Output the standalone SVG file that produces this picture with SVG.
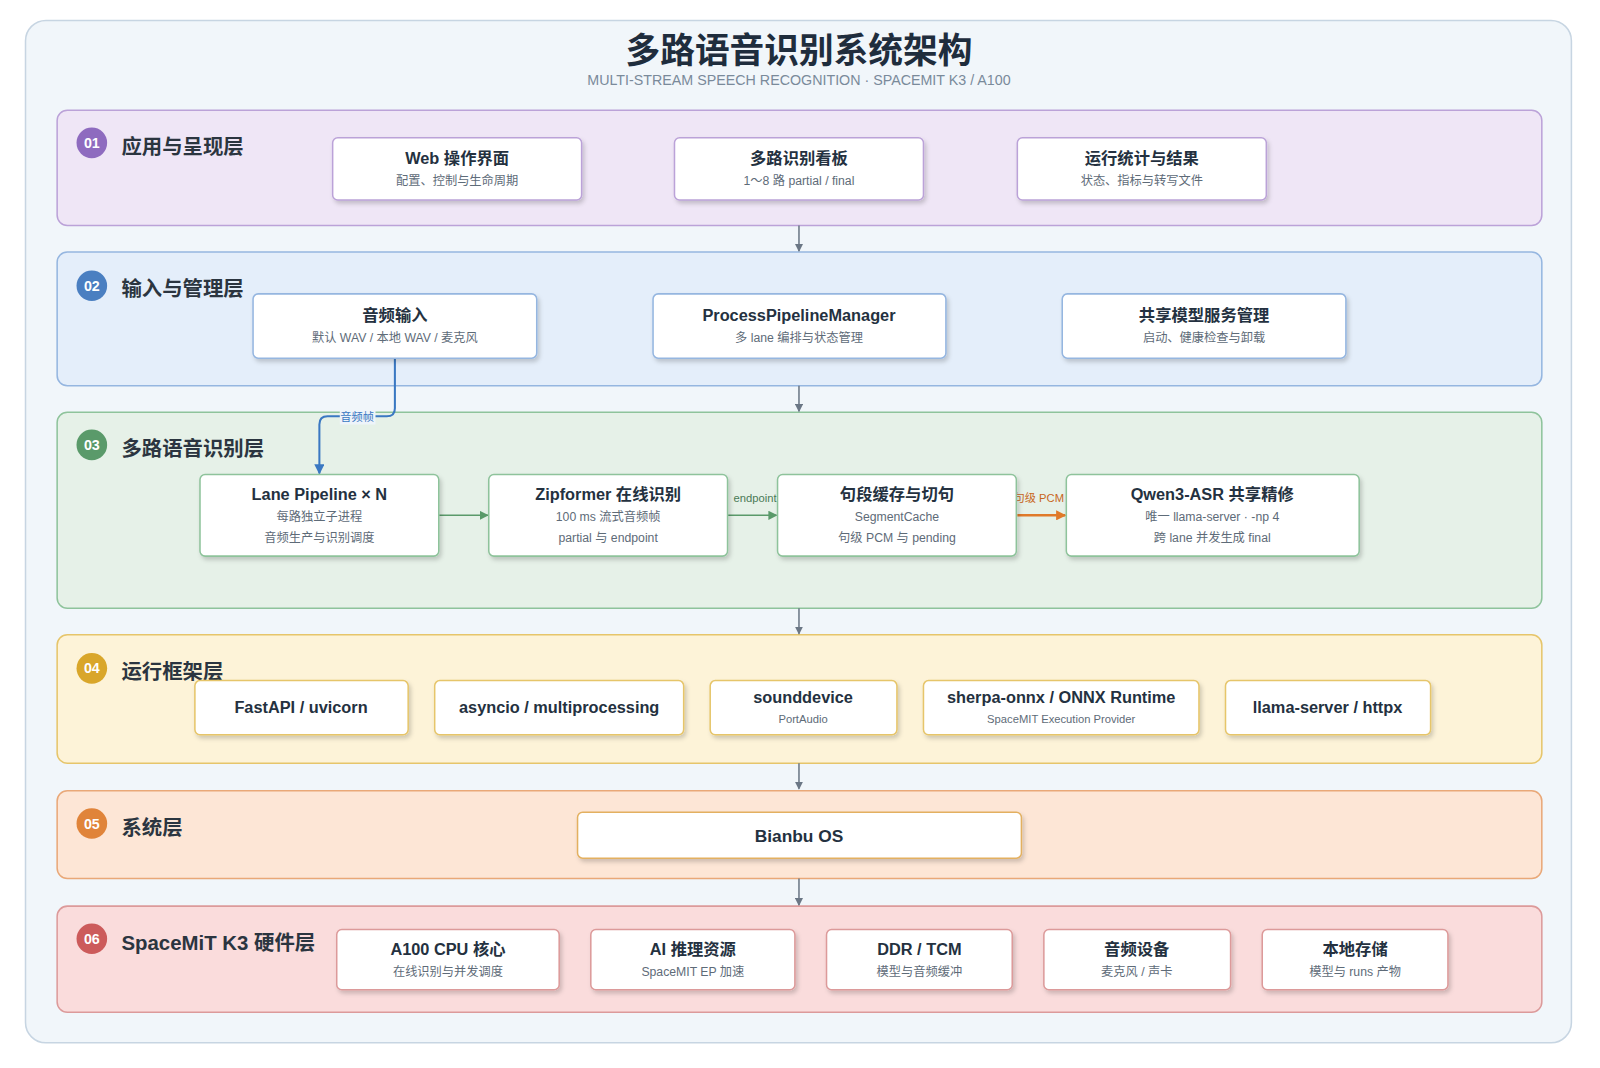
<svg xmlns="http://www.w3.org/2000/svg" width="1600" height="1068" viewBox="0 0 1600 1068">
<style>
text{font-family:"Liberation Sans","Noto Sans CJK SC",sans-serif;text-anchor:middle}
.lt{font-size:20px;font-weight:bold;fill:#2b3540;text-anchor:start}
.bn{font-size:14px;font-weight:bold;fill:#fff}
.t{font-size:16px;font-weight:bold;fill:#243140}
.s{font-size:12px;fill:#5e6b78}
.n{fill:#fff;stroke-width:1.5;filter:url(#sh)}
.c{stroke:#6b7785;stroke-width:1.5;fill:none;marker-end:url(#ag)}
</style>
<defs>
<filter id="sh" x="-10%" y="-20%" width="120%" height="150%"><feDropShadow dx="2" dy="3" stdDeviation="2" flood-color="#000" flood-opacity="0.18"/></filter>
<marker id="ag" markerWidth="8" markerHeight="8" refX="7" refY="4" orient="auto" markerUnits="userSpaceOnUse"><path d="M0,0L8,4L0,8z" fill="#6b7785"/></marker>
<marker id="ab" markerWidth="10" markerHeight="10" refX="9" refY="5" orient="auto" markerUnits="userSpaceOnUse"><path d="M0,0L10,5L0,10z" fill="#3a78c2"/></marker>
<marker id="agr" markerWidth="9" markerHeight="9" refX="8" refY="4.5" orient="auto" markerUnits="userSpaceOnUse"><path d="M0,0L9,4.5L0,9z" fill="#5a9a6a"/></marker>
<marker id="ao" markerWidth="10" markerHeight="10" refX="9" refY="5" orient="auto" markerUnits="userSpaceOnUse"><path d="M0,0L10,5L0,10z" fill="#e07a2a"/></marker>
</defs>
<rect width="1600" height="1068" fill="#fff"/>
<g transform="scale(1.0204)">
<rect x="25" y="20" width="1515" height="1002" rx="20" fill="#f1f6fa" stroke="#c7d5e2" stroke-width="1.5"/>
<text x="783" y="62" style="font-size:34px;font-weight:bold;fill:#1f2d3d">多路语音识别系统架构</text>
<text x="783" y="83" style="font-size:14px;fill:#7a8a9a">MULTI-STREAM SPEECH RECOGNITION · SPACEMIT K3 / A100</text>

<g id="layer1">
<rect x="56" y="108" width="1455" height="113" rx="10" fill="#efe6f6" stroke="#bba2d8" stroke-width="1.5"/>
<circle cx="90" cy="140" r="15" fill="#8e6bbf"/><text x="90" y="145" class="bn">01</text>
<text x="119" y="151" class="lt">应用与呈现层</text>
</g>
<g id="layer2">
<rect x="56" y="247" width="1455" height="131" rx="10" fill="#e4eefa" stroke="#95b6e0" stroke-width="1.5"/>
<circle cx="90" cy="280" r="15" fill="#4a7fc1"/><text x="90" y="285" class="bn">02</text>
<text x="119" y="290" class="lt">输入与管理层</text>
</g>
<g id="layer3">
<rect x="56" y="404" width="1455" height="192" rx="10" fill="#e6f1e8" stroke="#8ec39b" stroke-width="1.5"/>
<circle cx="90" cy="436" r="15" fill="#5a9a6a"/><text x="90" y="441" class="bn">03</text>
<text x="119" y="447" class="lt">多路语音识别层</text>
</g>
<g id="layer4">
<rect x="56" y="622" width="1455" height="126" rx="10" fill="#fdf3d8" stroke="#e6c56a" stroke-width="1.5"/>
<circle cx="90" cy="655" r="15" fill="#d9a62a"/><text x="90" y="660" class="bn">04</text>
<text x="119" y="665" class="lt">运行框架层</text>
</g>
<g id="layer5">
<rect x="56" y="775" width="1455" height="86" rx="10" fill="#fde6d6" stroke="#e9a878" stroke-width="1.5"/>
<circle cx="90" cy="807" r="15" fill="#e0843a"/><text x="90" y="812" class="bn">05</text>
<text x="119" y="818" class="lt">系统层</text>
</g>
<g id="layer6">
<rect x="56" y="888" width="1455" height="104" rx="10" fill="#fadcdc" stroke="#dc9a9a" stroke-width="1.5"/>
<circle cx="90" cy="920" r="15" fill="#cc5b5b"/><text x="90" y="925" class="bn">06</text>
<text x="119" y="931" class="lt">SpaceMiT K3 硬件层</text>
</g>

<g id="connectors">
<path class="c" d="M783 221V246"/>
<path class="c" d="M783 378V403"/>
<path class="c" d="M783 596V621"/>
<path class="c" d="M783 748V773"/>
<path class="c" d="M783 861V887"/>
<path d="M387 351V400Q387 408 379 408H321Q313 408 313 416V464" stroke="#3a78c2" stroke-width="2" fill="none" marker-end="url(#ab)"/>
<rect x="333" y="402" width="35" height="14" fill="#eef4fa"/>
<text x="350" y="413" style="font-size:11px;fill:#3a78c2">音频帧</text>
<path d="M430 505H478" stroke="#5a9a6a" stroke-width="1.5" marker-end="url(#agr)"/>
<path d="M713 505H761" stroke="#5a9a6a" stroke-width="1.5" marker-end="url(#agr)"/>
<text x="740" y="492" style="font-size:11px;fill:#4a7a56">endpoint</text>
<path d="M997 505H1044" stroke="#e07a2a" stroke-width="2.5" marker-end="url(#ao)"/>
<text x="1018" y="492" style="font-size:11px;fill:#c8661c">句级 PCM</text>
</g>

<g id="n-web"><rect class="n" x="326" y="135" width="244" height="61" rx="5" stroke="#bba2d8"/><text x="448" y="161" class="t">Web 操作界面</text><text x="448" y="181" class="s">配置、控制与生命周期</text></g>
<g id="n-board"><rect class="n" x="661" y="135" width="244" height="61" rx="5" stroke="#bba2d8"/><text x="783" y="161" class="t">多路识别看板</text><text x="783" y="181" class="s">1～8 路 partial / final</text></g>
<g id="n-stats"><rect class="n" x="997" y="135" width="244" height="61" rx="5" stroke="#bba2d8"/><text x="1119" y="161" class="t">运行统计与结果</text><text x="1119" y="181" class="s">状态、指标与转写文件</text></g>

<g id="n-audio"><rect class="n" x="248" y="288" width="278" height="63" rx="5" stroke="#95b6e0"/><text x="387" y="315" class="t">音频输入</text><text x="387" y="335" class="s">默认 WAV / 本地 WAV / 麦克风</text></g>
<g id="n-ppm"><rect class="n" x="640" y="288" width="287" height="63" rx="5" stroke="#95b6e0"/><text x="783" y="315" class="t">ProcessPipelineManager</text><text x="783" y="335" class="s">多 lane 编排与状态管理</text></g>
<g id="n-svc"><rect class="n" x="1041" y="288" width="278" height="63" rx="5" stroke="#95b6e0"/><text x="1180" y="315" class="t">共享模型服务管理</text><text x="1180" y="335" class="s">启动、健康检查与卸载</text></g>

<g id="n-lane"><rect class="n" x="196" y="465" width="234" height="80" rx="5" stroke="#8ec39b"/><text x="313" y="490" class="t">Lane Pipeline × N</text><text x="313" y="511" class="s">每路独立子进程</text><text x="313" y="531" class="s">音频生产与识别调度</text></g>
<g id="n-zip"><rect class="n" x="479" y="465" width="234" height="80" rx="5" stroke="#8ec39b"/><text x="596" y="490" class="t">Zipformer 在线识别</text><text x="596" y="511" class="s">100 ms 流式音频帧</text><text x="596" y="531" class="s">partial 与 endpoint</text></g>
<g id="n-seg"><rect class="n" x="762" y="465" width="234" height="80" rx="5" stroke="#8ec39b"/><text x="879" y="490" class="t">句段缓存与切句</text><text x="879" y="511" class="s">SegmentCache</text><text x="879" y="531" class="s">句级 PCM 与 pending</text></g>
<g id="n-qwen"><rect class="n" x="1045" y="465" width="287" height="80" rx="5" stroke="#8ec39b"/><text x="1188" y="490" class="t">Qwen3-ASR 共享精修</text><text x="1188" y="511" class="s">唯一 llama-server · -np 4</text><text x="1188" y="531" class="s">跨 lane 并发生成 final</text></g>

<g id="n-fastapi"><rect class="n" x="191" y="667" width="209" height="53" rx="5" stroke="#e6c56a"/><text x="295" y="699" class="t">FastAPI / uvicorn</text></g>
<g id="n-asyncio"><rect class="n" x="426" y="667" width="244" height="53" rx="5" stroke="#e6c56a"/><text x="548" y="699" class="t">asyncio / multiprocessing</text></g>
<g id="n-sd"><rect class="n" x="696" y="667" width="183" height="53" rx="5" stroke="#e6c56a"/><text x="787" y="689" class="t">sounddevice</text><text x="787" y="709" style="font-size:11px;fill:#5e6b78">PortAudio</text></g>
<g id="n-sherpa"><rect class="n" x="905" y="667" width="270" height="53" rx="5" stroke="#e6c56a"/><text x="1040" y="689" class="t">sherpa-onnx / ONNX Runtime</text><text x="1040" y="709" style="font-size:11px;fill:#5e6b78">SpaceMIT Execution Provider</text></g>
<g id="n-llama"><rect class="n" x="1201" y="667" width="201" height="53" rx="5" stroke="#e6c56a"/><text x="1301" y="699" class="t">llama-server / httpx</text></g>

<g id="n-os"><rect class="n" x="566" y="796" width="435" height="45" rx="5" stroke="#e3b060"/><text x="783" y="825" class="t" style="font-size:17px">Bianbu OS</text></g>

<g id="n-cpu"><rect class="n" x="330" y="911" width="218" height="59" rx="5" stroke="#dc9a9a"/><text x="439" y="936" class="t">A100 CPU 核心</text><text x="439" y="956" class="s">在线识别与并发调度</text></g>
<g id="n-ai"><rect class="n" x="579" y="911" width="200" height="59" rx="5" stroke="#dc9a9a"/><text x="679" y="936" class="t">AI 推理资源</text><text x="679" y="956" class="s">SpaceMIT EP 加速</text></g>
<g id="n-ddr"><rect class="n" x="810" y="911" width="182" height="59" rx="5" stroke="#dc9a9a"/><text x="901" y="936" class="t">DDR / TCM</text><text x="901" y="956" class="s">模型与音频缓冲</text></g>
<g id="n-dev"><rect class="n" x="1023" y="911" width="183" height="59" rx="5" stroke="#dc9a9a"/><text x="1114" y="936" class="t">音频设备</text><text x="1114" y="956" class="s">麦克风 / 声卡</text></g>
<g id="n-store"><rect class="n" x="1237" y="911" width="182" height="59" rx="5" stroke="#dc9a9a"/><text x="1328" y="936" class="t">本地存储</text><text x="1328" y="956" class="s">模型与 runs 产物</text></g>
</g>
</svg>
